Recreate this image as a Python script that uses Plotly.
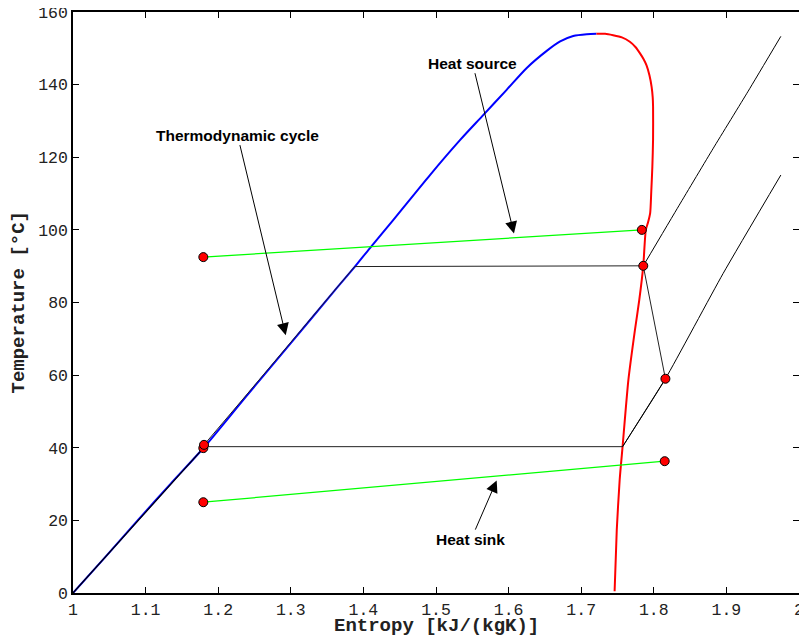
import plotly.graph_objects as go

# Saturated liquid line (blue)
liq_s = [1.0, 1.045, 1.09, 1.135, 1.18, 1.24, 1.30, 1.36, 1.388, 1.409, 1.441, 1.4917, 1.533,
         1.565, 1.597, 1.625, 1.6525, 1.671, 1.689, 1.7076, 1.721]
liq_T = [0, 10, 20.2, 30.2, 40, 54.5, 68.8, 83.2, 89.8, 95.0, 102.7, 115.1, 124.7,
         131.6, 138.5, 144.6, 149.3, 151.9, 153.4, 153.9, 154.0]

# Saturated vapour line (red)
vap_s = [1.721, 1.733, 1.744, 1.756, 1.767, 1.775, 1.781, 1.786, 1.790, 1.794, 1.797, 1.7985,
         1.799, 1.799, 1.798, 1.7965, 1.795, 1.792, 1.789,
         1.7855, 1.780, 1.774, 1.765, 1.757, 1.753, 1.749, 1.746]
vap_T = [154.0, 154.0, 153.6, 153.0, 151.8, 150.3, 148.6, 147.0, 145.3, 142.6, 139.4, 136.5,
         133.9, 125.0, 117.4, 110.5, 104.6, 102.0, 100.0,
         90.1, 80.7, 72.4, 58.7, 40.3, 31.2, 17.4, 0.5]

# Liquid-side black line from origin to pump outlet
sub_s = [1.0, 1.045, 1.09, 1.135, 1.1795]
sub_T = [0, 10, 20.2, 30.2, 39.9]

# Thermodynamic cycle (black)
cyc_s = [1.1795, 1.1805, 1.24, 1.30, 1.36, 1.388, 1.7855, 1.816, 1.757, 1.1805]
cyc_T = [39.9, 40.8, 54.8, 69.0, 83.3, 89.9, 90.1, 59.0, 40.3, 40.3]

# Superheated isobars (black)
hi_iso_s = [1.7855, 1.835, 1.882, 1.93, 1.975]
hi_iso_T = [90.1, 106.8, 122.5, 138.2, 153.3]
lo_iso_s = [1.757, 1.816, 1.8955, 1.975]
lo_iso_T = [40.3, 59.0, 88.0, 115.1]

# Heat source / heat sink (green)
src_s = [1.1795, 1.7835]
src_T = [92.5, 100.0]
sink_s = [1.1795, 1.815]
sink_T = [25.0, 36.3]

# State points (red markers)
pt_s = [1.1795, 1.1805, 1.7855, 1.7835, 1.816, 1.815, 1.1795, 1.1795]
pt_T = [39.9, 40.8, 90.1, 100.0, 59.0, 36.3, 92.5, 25.0]

x_ticks = [1, 1.1, 1.2, 1.3, 1.4, 1.5, 1.6, 1.7, 1.8, 1.9, 2]
x_tick_text = ["1", "1.1", "1.2", "1.3", "1.4", "1.5", "1.6", "1.7", "1.8", "1.9", "2"]
y_ticks = [0, 20, 40, 60, 80, 100, 120, 140, 160]

fig = go.Figure()
fig.add_trace(go.Scatter(x=liq_s, y=liq_T, mode="lines", line=dict(color="#0000ff", width=2, shape="spline", smoothing=0.8)))
fig.add_trace(go.Scatter(x=vap_s, y=vap_T, mode="lines", line=dict(color="#ff0000", width=2, shape="spline", smoothing=0.6)))
fig.add_trace(go.Scatter(x=sub_s, y=sub_T, mode="lines", line=dict(color="#000000", width=1.2)))
fig.add_trace(go.Scatter(x=cyc_s, y=cyc_T, mode="lines", line=dict(color="#222222", width=1)))
fig.add_trace(go.Scatter(x=hi_iso_s, y=hi_iso_T, mode="lines", line=dict(color="#000000", width=1, shape="spline", smoothing=0.5)))
fig.add_trace(go.Scatter(x=lo_iso_s, y=lo_iso_T, mode="lines", line=dict(color="#000000", width=1, shape="spline", smoothing=0.5)))
fig.add_trace(go.Scatter(x=src_s, y=src_T, mode="lines", line=dict(color="#00ff00", width=1.3)))
fig.add_trace(go.Scatter(x=sink_s, y=sink_T, mode="lines", line=dict(color="#00ff00", width=1.3)))
fig.add_trace(go.Scatter(x=pt_s, y=pt_T, mode="markers",
                         marker=dict(color="#ff0000", size=9, line=dict(color="#000000", width=1))))

ann_font = dict(family="Liberation Sans, Arial, sans-serif", size=15.5, color="black")
annots = [
    ("<b>Thermodynamic cycle</b>", 1.293, 71.0, 1.2266, 126.1),
    ("<b>Heat source</b>", 1.6074, 99.0, 1.5503, 145.9),
    ("<b>Heat sink</b>", 1.5836, 31.0, 1.5482, 14.7),
]
for txt, x, y, ax, ay in annots:
    fig.add_annotation(text=txt, x=x, y=y, ax=ax, ay=ay, xref="x", yref="y",
                       axref="x", ayref="y", showarrow=True, arrowhead=2, arrowsize=2.4,
                       arrowwidth=1, arrowcolor="black", font=ann_font, borderpad=1)

mono = "Liberation Mono, Courier New, monospace"
title_font = dict(family=mono, size=19, color="#222222")
# Axis titles placed as paper-referenced text
fig.add_annotation(text="<b>Entropy [kJ/(kgK)]</b>", xref="paper", yref="paper", x=0.5, y=0,
                   yshift=-33, xanchor="center", yanchor="middle", showarrow=False, font=title_font,
                   borderpad=0)
fig.add_annotation(text="<b>Temperature [°C]</b>", xref="paper", yref="paper", x=0, y=0.5,
                   xshift=-55, xanchor="center", yanchor="middle", textangle=-90,
                   showarrow=False, font=title_font)

# The page body adds an 8px margin, so the figure is sized to fill the window from (8, 8).
fig.update_layout(
    width=799, height=636,
    margin=dict(l=65, r=8, t=4, b=51),
    paper_bgcolor="white", plot_bgcolor="white",
    showlegend=False,
    font=dict(family=mono, size=16.5, color="#222222"),
    xaxis=dict(range=[1, 2], tickvals=x_ticks, ticktext=x_tick_text, ticks="inside", ticklen=6,
               tickcolor="black", showline=True, linecolor="black", linewidth=1.5,
               mirror="ticks", showgrid=False, zeroline=False, automargin=False,
               ticklabeloverflow="allow"),
    yaxis=dict(range=[0, 160], tickvals=y_ticks, ticks="inside", ticklen=6,
               tickcolor="black", showline=True, linecolor="black", linewidth=1.5,
               mirror="ticks", showgrid=False, zeroline=False, automargin=False,
               ticklabeloverflow="allow"),
)
fig.write_html("out.html")
